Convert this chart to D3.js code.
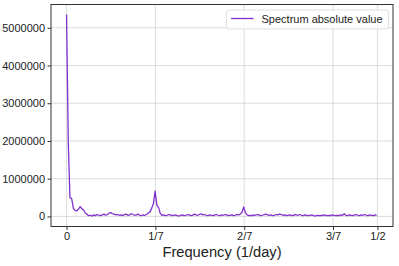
<!DOCTYPE html>
<html>
<head>
<meta charset="utf-8">
<script src="https://cdn.jsdelivr.net/npm/d3@7/dist/d3.min.js"></script>
<style>
  body { margin: 0; background: #fff; }
  svg { display: block; font-family: "Liberation Sans", Arial, sans-serif; }
</style>
</head>
<body>
<div id="chart"></div>
<script>
// spectrum magnitude per frequency bin (millions), bin step = 1/365 per day
const binStep = 1 / 365;
const spectrumM = [
  5.35, 2.0, 0.49, 0.47, 0.22, 0.16, 0.15, 0.19, 0.26, 0.20,
  0.17, 0.09, 0.06, 0.02, 0.03, 0.01, 0.04, 0.02, 0.05, 0.03,
  0.02, 0.04, 0.06, 0.03, 0.05, 0.09, 0.10, 0.07, 0.06, 0.04,
  0.05, 0.03, 0.04, 0.02, 0.05, 0.06, 0.03, 0.04, 0.07, 0.05,
  0.03, 0.04, 0.06, 0.03, 0.02, 0.04, 0.03, 0.05, 0.09, 0.12,
  0.22, 0.34, 0.67, 0.30, 0.24, 0.08, 0.03, 0.04, 0.02, 0.03,
  0.05, 0.04, 0.02, 0.03, 0.04, 0.02, 0.01, 0.03, 0.04, 0.02,
  0.03, 0.05, 0.04, 0.02, 0.03, 0.06, 0.04, 0.03, 0.05, 0.07,
  0.04, 0.05, 0.03, 0.02, 0.04, 0.03, 0.02, 0.04, 0.05, 0.03,
  0.02, 0.04, 0.03, 0.05, 0.04, 0.02, 0.03, 0.04, 0.02, 0.03,
  0.05, 0.04, 0.06, 0.11, 0.25, 0.10, 0.04, 0.02, 0.03, 0.02,
  0.04, 0.03, 0.05, 0.04, 0.02, 0.03, 0.05, 0.06, 0.04, 0.03,
  0.04, 0.02, 0.03, 0.05, 0.04, 0.06, 0.05, 0.03, 0.04, 0.02,
  0.03, 0.04, 0.03, 0.02, 0.05, 0.04, 0.03, 0.05, 0.03, 0.02,
  0.04, 0.03, 0.02, 0.03, 0.04, 0.02, 0.01, 0.03, 0.02, 0.03,
  0.02, 0.04, 0.03, 0.02, 0.03, 0.02, 0.04, 0.03, 0.02, 0.03,
  0.02, 0.04, 0.03, 0.07, 0.03, 0.02, 0.04, 0.03, 0.02, 0.04,
  0.05, 0.03, 0.02, 0.04, 0.03, 0.05, 0.03, 0.02, 0.04, 0.03,
  0.02, 0.04, 0.03
];
const xTickValues = [0, 1 / 7, 2 / 7, 3 / 7, 1 / 2];
const xTickLabels = ['0', '1/7', '2/7', '3/7', '1/2'];
const yTickValues = [0, 1000000, 2000000, 3000000, 4000000, 5000000];
const seriesName = 'Spectrum absolute value';
const xTitle = 'Frequency (1/day)';

const W = 399, H = 266;
const m = { left: 51, right: 6, top: 4.5, bottom: 39.5 };
const lineColor = '#8030cc';

const data = spectrumM.map((v, i) => ({ f: i * binStep, v: v * 1e6 }));

const svg = d3.select('#chart').append('svg')
  .attr('width', W).attr('height', H);

const x = d3.scaleLinear().domain([-0.025, 0.525]).range([m.left, W - m.right]);
const yMax = d3.max(data, d => d.v);
const pad = yMax * 0.05;
const y = d3.scaleLinear().domain([-pad, yMax + pad]).range([H - m.bottom, m.top]);

// grid
const grid = svg.append('g').attr('stroke', '#d3d3d3').attr('stroke-width', 0.8);
grid.selectAll('.gx').data(xTickValues).enter().append('line')
  .attr('x1', d => x(d)).attr('x2', d => x(d))
  .attr('y1', m.top).attr('y2', H - m.bottom);
grid.selectAll('.gy').data(yTickValues).enter().append('line')
  .attr('y1', d => y(d)).attr('y2', d => y(d))
  .attr('x1', m.left).attr('x2', W - m.right);

// line
svg.append('path')
  .datum(data)
  .attr('fill', 'none')
  .attr('stroke', lineColor)
  .attr('stroke-width', 1.3)
  .attr('stroke-linejoin', 'round')
  .attr('d', d3.line().x(d => x(d.f)).y(d => y(d.v)));

// axes
const xAxis = svg.append('g')
  .attr('transform', `translate(0,${H - m.bottom})`)
  .call(d3.axisBottom(x).tickValues(xTickValues)
    .tickFormat((d, i) => xTickLabels[i]).tickSize(3.5).tickPadding(2.5));
const yAxis = svg.append('g')
  .attr('transform', `translate(${m.left},0)`)
  .call(d3.axisLeft(y).tickValues(yTickValues)
    .tickFormat(d3.format('d')).tickSize(3.5).tickPadding(2.5));
[xAxis, yAxis].forEach(a => {
  a.select('.domain').remove();
  a.selectAll('line').attr('stroke', '#333');
  a.selectAll('text').attr('fill', '#222')
    .style('font-size', '11px')
    .style('font-family', '"Liberation Sans", Arial, sans-serif');
});

// frame
svg.append('rect')
  .attr('x', m.left).attr('y', m.top)
  .attr('width', W - m.right - m.left).attr('height', H - m.bottom - m.top)
  .attr('fill', 'none').attr('stroke', '#333').attr('stroke-width', 1);

// x title
svg.append('text')
  .attr('x', (m.left + W - m.right) / 2)
  .attr('y', 257)
  .attr('text-anchor', 'middle')
  .attr('fill', '#222')
  .style('font-size', '14.7px')
  .text(xTitle);

// legend
const lg = svg.append('g').attr('transform', 'translate(226.5,10)');
lg.append('rect')
  .attr('width', 162).attr('height', 19).attr('rx', 2.5)
  .attr('fill', '#fff').attr('fill-opacity', 0.8)
  .attr('stroke', '#d8d8d8').attr('stroke-width', 0.8);
lg.append('line')
  .attr('x1', 4.5).attr('x2', 27).attr('y1', 8.5).attr('y2', 8.5)
  .attr('stroke', lineColor).attr('stroke-width', 1.3);
lg.append('text')
  .attr('x', 35).attr('y', 12.5)
  .attr('fill', '#222')
  .style('font-size', '11px')
  .text(seriesName);
</script>
</body>
</html>
